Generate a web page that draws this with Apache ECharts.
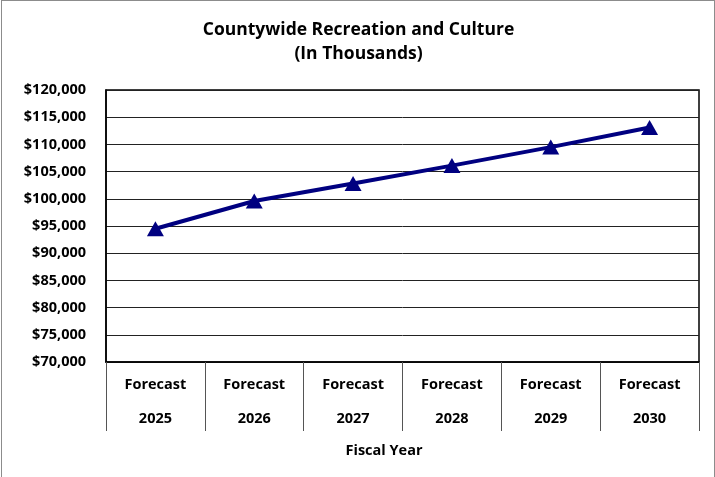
<!DOCTYPE html>
<html>
<head>
<meta charset="utf-8">
<script src="https://cdn.jsdelivr.net/npm/echarts@6/dist/echarts.min.js"></script>
<style>
  html, body { margin: 0; padding: 0; background: #fff; }
  #frame { position: absolute; left: 1px; top: 0; width: 712px; height: 477px; border: 1px solid #8c8c8c; border-bottom: none; }
  #chart { position: absolute; left: -1px; top: 0; width: 715px; height: 477px; }
</style>
</head>
<body>
<div id="frame"><div id="chart"></div></div>
<script>
// Countywide Recreation and Culture budget forecast, in thousands of dollars
const titleLines = ['Countywide Recreation and Culture', '(In Thousands)'];
const fiscalYears = ['2025', '2026', '2027', '2028', '2029', '2030'];
const yearPrefix = 'Forecast';
const spending = [94500, 99600, 102800, 106100, 109500, 113100];
const yMin = 70000, yMax = 120000, yStep = 5000;

const FONT = '"Open Sans", sans-serif';
const chart = echarts.init(document.getElementById('chart'));

chart.setOption({
  animation: false,
  textStyle: { fontFamily: FONT },
  title: {
    text: titleLines.join('\n'),
    left: 'center',
    top: 12,
    textStyle: { fontFamily: FONT, fontSize: 17.5, fontWeight: 'bold', color: '#000', lineHeight: 24 }
  },
  grid: { left: 105, right: 17, top: 89, bottom: 116, show: true, borderColor: '#000', borderWidth: 1.5 },
  xAxis: {
    type: 'category',
    data: fiscalYears.map(y => yearPrefix + '\n' + y),
    boundaryGap: true,
    axisLine: { lineStyle: { color: '#000', width: 1.5 } },
    axisTick: { show: true, length: 69, interval: 0, lineStyle: { color: '#555', width: 1 } },
    axisLabel: { interval: 0, margin: 6, fontFamily: FONT, fontSize: 14.5, fontWeight: 'bold', color: '#000', lineHeight: 34 },
    name: 'Fiscal Year',
    nameLocation: 'middle',
    nameGap: 81,
    nameTextStyle: { fontFamily: FONT, fontSize: 14.5, fontWeight: 'bold', color: '#000', padding: [0, 37, 0, 0] }
  },
  yAxis: {
    type: 'value',
    min: yMin, max: yMax, interval: yStep,
    axisLine: { show: true, lineStyle: { color: '#000', width: 1.5 } },
    axisTick: { show: false },
    splitLine: { lineStyle: { color: '#222', width: 1 } },
    axisLabel: {
      margin: 20, fontFamily: FONT, fontSize: 14.5, fontWeight: 'bold', color: '#000',
      formatter: v => '$' + v.toLocaleString('en-US')
    }
  },
  series: [{
    type: 'line',
    data: spending,
    symbol: 'triangle',
    symbolSize: [17, 15],
    lineStyle: { color: '#000080', width: 4 },
    itemStyle: { color: '#000080' }
  }]
});
</script>
</body>
</html>
